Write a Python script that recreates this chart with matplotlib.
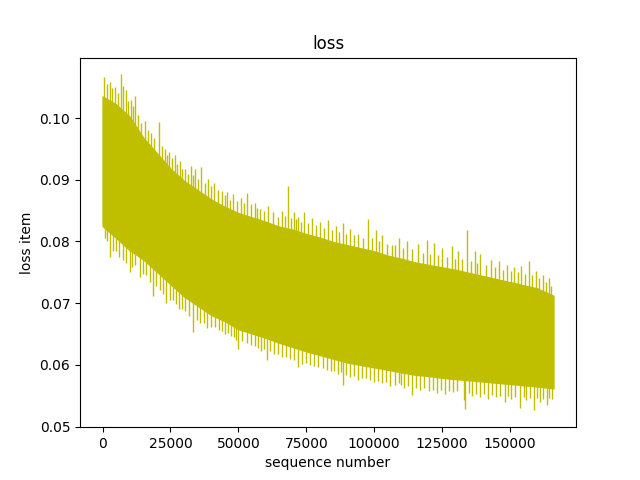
import numpy as np
import matplotlib
matplotlib.use("Agg")
import matplotlib.pyplot as plt

# band of the loss curve (dense body, without spikes)
seq_x = [0, 5000, 10000, 15000, 20000, 25000, 30000, 35000, 40000, 45000,
         50000, 55000, 60000, 65000, 70000, 75000, 80000, 85000, 90000, 95000,
         100000, 105000, 110000, 115000, 120000, 125000, 130000, 135000, 140000,
         145000, 150000, 155000, 160000, 166000]
loss_hi = [0.1035, 0.1022, 0.1002, 0.0968, 0.0943, 0.0918, 0.0898, 0.0883, 0.0868, 0.0856,
           0.0846, 0.0839, 0.0832, 0.0824, 0.0819, 0.0812, 0.0806, 0.0799, 0.0794, 0.0789,
           0.0784, 0.0777, 0.0772, 0.0766, 0.0762, 0.0758, 0.0754, 0.0749, 0.0744,
           0.0739, 0.0734, 0.0729, 0.0724, 0.0712]
loss_lo = [0.0825, 0.0806, 0.0786, 0.0771, 0.0751, 0.0731, 0.0711, 0.0696, 0.0681, 0.0671,
           0.0658, 0.0651, 0.0644, 0.0636, 0.0629, 0.0622, 0.0616, 0.0610, 0.0604, 0.0600,
           0.0596, 0.0592, 0.0588, 0.0584, 0.0582, 0.0579, 0.0577, 0.0575, 0.0573,
           0.0571, 0.0569, 0.0567, 0.0565, 0.0562]

# tall upward spikes
up_x = [550, 2800, 4500, 6700, 8500, 10500, 12000, 13100, 15500, 17900, 20800, 22900,
        24500, 26600, 28500, 30300, 32500, 34000, 36400, 38900, 41000, 43800, 46000,
        48100, 51000, 53000, 56000, 58000, 61000, 64700, 66000, 68400, 70500, 72000,
        74300, 77000, 80000, 83000, 86000, 88500, 91100, 94000, 97900, 100500, 103000,
        106500, 109000, 112000, 116000, 119400, 122000, 125000, 128600, 131000, 134100,
        137000, 139100, 143000, 146000, 149000, 151500, 154000, 156900, 159500, 162000,
        164500]
up_y = [0.1066, 0.1058, 0.1050, 0.1072, 0.1045, 0.1030, 0.1035, 0.1005, 0.0995, 0.0975,
        0.0993, 0.0950, 0.0945, 0.0940, 0.0930, 0.0918, 0.0922, 0.0917, 0.0920, 0.0902,
        0.0895, 0.0882, 0.0880, 0.0877, 0.0870, 0.0878, 0.0862, 0.0852, 0.0858, 0.0840,
        0.0850, 0.0890, 0.0848, 0.0840, 0.0848, 0.0838, 0.0832, 0.0835, 0.0825, 0.0830,
        0.0820, 0.0812, 0.0836, 0.0818, 0.0810, 0.0795, 0.0805, 0.0800, 0.0796, 0.0803,
        0.0798, 0.0790, 0.0792, 0.0785, 0.0819, 0.0785, 0.0780, 0.0770, 0.0768, 0.0762,
        0.0758, 0.0760, 0.0768, 0.0752, 0.0745, 0.0740]

# short upward spikes along the top edge
up_small_x = [1600, 3600, 5600, 7600, 9500, 11300, 14300, 16700, 19000, 21800, 23700,
              25500, 27500, 29400, 31400, 33200, 35200, 37600, 40000, 42400, 44900, 47000,
              49500, 52000, 54500, 57000, 59500, 62800, 67200, 69500, 71200, 73200, 75600,
              78500, 81500, 84500, 87200, 89800, 92500, 95800, 99200, 101800, 104800,
              107800, 110500, 113800, 117800, 120700, 123500, 126800, 129800, 132500,
              135500, 138000, 141000, 144500, 147500, 150200, 152800, 155500, 158200,
              160800, 163200, 165200]
up_small_y = [0.1055, 0.1048, 0.1040, 0.1052, 0.1028, 0.1020, 0.0992, 0.0980, 0.0968,
              0.0955, 0.0940, 0.0935, 0.0925, 0.0918, 0.0910, 0.0908, 0.0902, 0.0895,
              0.0890, 0.0884, 0.0875, 0.0868, 0.0865, 0.0862, 0.0860, 0.0855, 0.0850,
              0.0848, 0.0842, 0.0838, 0.0836, 0.0832, 0.0830, 0.0826, 0.0822, 0.0818,
              0.0816, 0.0812, 0.0810, 0.0806, 0.0805, 0.0800, 0.0796, 0.0794, 0.0790,
              0.0788, 0.0782, 0.0780, 0.0778, 0.0775, 0.0772, 0.0772, 0.0768, 0.0765,
              0.0762, 0.0758, 0.0754, 0.0752, 0.0750, 0.0748, 0.0745, 0.0740, 0.0735,
              0.0728]

# deep downward spikes
down_x = [800, 2650, 5000, 7500, 10000, 12000, 13700, 16000, 18600, 21000, 23500, 26000,
          28000, 30500, 33400, 36000, 38500, 41500, 44000, 46300, 48500, 50000, 53000,
          56000, 58500, 60400, 63000, 66000, 69000, 72100, 75000, 78000, 81000, 84000,
          86500, 88700, 91000, 94000, 97000, 100000, 103000, 106000, 109000, 111000,
          113900, 117000, 120000, 123000, 126000, 129000, 132900, 133400, 136000, 139000,
          142000, 145000, 148000, 150500, 153800, 156000, 158700, 161000, 163500, 165500]
down_y = [0.0805, 0.0775, 0.0785, 0.0770, 0.0750, 0.0762, 0.0742, 0.0745, 0.0712, 0.0722,
          0.0700, 0.0705, 0.0690, 0.0688, 0.0654, 0.0668, 0.0660, 0.0662, 0.0655, 0.0652,
          0.0645, 0.0625, 0.0635, 0.0630, 0.0622, 0.0608, 0.0618, 0.0612, 0.0610, 0.0597,
          0.0603, 0.0598, 0.0595, 0.0590, 0.0585, 0.0568, 0.0580, 0.0576, 0.0578, 0.0572,
          0.0570, 0.0566, 0.0570, 0.0562, 0.0551, 0.0560, 0.0558, 0.0555, 0.0553, 0.0556,
          0.0543, 0.0529, 0.0550, 0.0548, 0.0545, 0.0548, 0.0540, 0.0545, 0.0530, 0.0543,
          0.0527, 0.0540, 0.0535, 0.0545]

# short downward spikes along the bottom edge
down_small_x = [1700, 3800, 6200, 8800, 11000, 14800, 17300, 19800, 22300, 24800, 27000,
                29300, 31800, 34700, 37200, 40000, 42800, 45200, 47400, 49200, 51500,
                54500, 57200, 59500, 61800, 64500, 67500, 70500, 73500, 76500, 79500,
                82500, 85300, 87700, 89800, 92500, 95500, 98500, 101500, 104500, 107500,
                110000, 112500, 115500, 118500, 121500, 124500, 127500, 130500, 134800,
                137500, 140500, 143500, 146500, 149200, 152000, 155000, 157500, 159800,
                162200, 164500]
down_small_y = [0.0800, 0.0785, 0.0775, 0.0765, 0.0758, 0.0748, 0.0735, 0.0728, 0.0715,
                0.0705, 0.0698, 0.0690, 0.0680, 0.0672, 0.0668, 0.0662, 0.0656, 0.0650,
                0.0646, 0.0640, 0.0638, 0.0632, 0.0628, 0.0625, 0.0622, 0.0618, 0.0612,
                0.0608, 0.0602, 0.0600, 0.0596, 0.0592, 0.0590, 0.0588, 0.0584, 0.0582,
                0.0578, 0.0576, 0.0574, 0.0572, 0.0568, 0.0568, 0.0566, 0.0563, 0.0562,
                0.0560, 0.0560, 0.0558, 0.0557, 0.0555, 0.0553, 0.0553, 0.0551, 0.0550,
                0.0550, 0.0548, 0.0548, 0.0546, 0.0547, 0.0545, 0.0546]

fig, ax = plt.subplots(figsize=(6.4, 4.8), dpi=100)

ax.fill_between(seq_x, loss_lo, loss_hi, color='y', lw=1)
mid = (np.array(loss_hi) + np.array(loss_lo)) / 2
ux = up_x + up_small_x
uy = up_y + up_small_y
dx = down_x + down_small_x
dy = down_y + down_small_y
ax.vlines(ux, np.interp(ux, seq_x, mid), uy, color='y', lw=1)
ax.vlines(dx, dy, np.interp(dx, seq_x, mid), color='y', lw=1)

ax.set_xlim(-8300, 174300)
ax.set_ylim(0.0499, 0.1098)
ax.set_title('loss')
ax.set_xlabel('sequence number')
ax.set_ylabel('loss item')

plt.savefig("out.png")
